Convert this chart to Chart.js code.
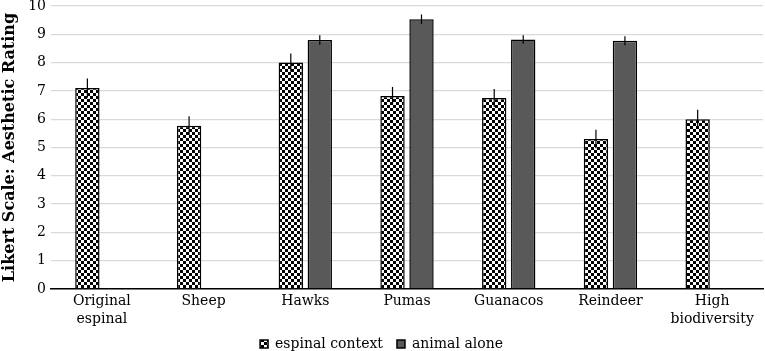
<!DOCTYPE html>
<html>
<head>
<meta charset="utf-8">
<script src="https://cdn.jsdelivr.net/npm/chart.js@4.4.1/dist/chart.umd.min.js"></script>
<style>
  html, body { margin: 0; padding: 0; background: #fff; }
  #wrap { width: 765px; height: 351px; position: relative; }
</style>
</head>
<body>
<div id="wrap"><canvas id="ratingChart"></canvas></div>
<script>
// categories and series
const categories = [['Original', 'espinal'], 'Sheep', 'Hawks', 'Pumas', 'Guanacos', 'Reindeer', ['High', 'biodiversity']];
const espinalValues = [7.1, 5.77, 8.0, 6.82, 6.75, 5.3, 6.0];
const espinalErrors = [0.34, 0.33, 0.32, 0.32, 0.32, 0.33, 0.33];
const animalValues = [null, null, 8.8, 9.53, 8.82, 8.77, null];
const animalErrors = [null, null, 0.17, 0.17, 0.15, 0.16, null];
const yTicks = [0, 1, 2, 3, 4, 5, 6, 7, 8, 9, 10];

const FONT = '"DejaVu Serif", serif';

// checkerboard fill for the "espinal context" bars
function checker() {
    const c = document.createElement('canvas');
    c.width = 6; c.height = 6;
    const x = c.getContext('2d');
    x.fillStyle = '#fff'; x.fillRect(0, 0, 6, 6);
    x.fillStyle = '#000';
    x.fillRect(0, 0, 3, 3);
    x.fillRect(3, 3, 3, 3);
    return x.createPattern(c, 'repeat');
}

// symmetric error bars, no caps
const errorBars = {
    id: 'errorBars',
    afterDatasetsDraw(chart) {
        const ctx = chart.ctx, y = chart.scales.y;
        chart.data.datasets.forEach((ds, i) => {
            const meta = chart.getDatasetMeta(i);
            meta.data.forEach((bar, j) => {
                const v = ds.data[j], e = ds.errors[j];
                if (v == null || e == null) return;
                ctx.save();
                ctx.strokeStyle = '#000';
                ctx.lineWidth = 1.2;
                ctx.beginPath();
                ctx.moveTo(bar.x, y.getPixelForValue(v + e));
                ctx.lineTo(bar.x, y.getPixelForValue(v - e));
                ctx.stroke();
                ctx.restore();
            });
        });
    }
};

// x scale is squeezed so the legend sits close; let its 2-line labels draw past it
const unclipLabels = {
    id: 'unclipLabels',
    afterLayout(chart) { chart.scales.x.bottom = chart.height; }
};

new Chart(document.getElementById('ratingChart'), {
    type: 'bar',
    data: {
        labels: categories,
        datasets: [
            {
                label: 'espinal context',
                data: espinalValues,
                errors: espinalErrors,
                backgroundColor: checker(),
                borderColor: '#000',
                borderWidth: 1.5,
                categoryPercentage: 0.57,
                barPercentage: 0.84
            },
            {
                label: 'animal alone',
                data: animalValues,
                errors: animalErrors,
                backgroundColor: '#595959',
                borderColor: '#000',
                borderWidth: 1.5,
                categoryPercentage: 0.57,
                barPercentage: 0.84
            }
        ]
    },
    options: {
        responsive: true, maintainAspectRatio: false,
        animation: false,
        layout: { padding: { top: 6, right: 2, left: 0, bottom: -10 } },
        plugins: {
            tooltip: { enabled: false },
            legend: {
                position: 'bottom',
                labels: {
                    color: '#000',
                    font: { family: FONT, size: 14 },
                    boxWidth: 8, boxHeight: 8,
                    padding: 14
                }
            }
        },
        scales: {
            x: {
                afterFit: s => { s.height = 34; },
                grid: { display: false, drawTicks: false },
                border: { color: '#000', width: 1.5 },
                ticks: { color: '#000', font: { family: FONT, size: 14, lineHeight: 1.3 }, padding: 3, maxRotation: 0, autoSkip: false }
            },
            y: {
                min: 0, max: 10,
                afterBuildTicks: s => { s.ticks = yTicks.map(v => ({ value: v })); },
                afterFit: s => { s.paddingTop = 0; },
                grid: { color: '#d9d9d9', lineWidth: 1.3, drawTicks: false },
                border: { display: false },
                ticks: { color: '#000', font: { family: FONT, size: 14 }, padding: 5 },
                title: {
                    display: true,
                    text: 'Likert Scale: Aesthetic Rating',
                    color: '#000',
                    font: { family: FONT, size: 16, weight: 'bold' },
                    padding: { top: 0, bottom: 4 }
                }
            }
        }
    },
    plugins: [errorBars, unclipLabels]
});
</script>
</body>
</html>
